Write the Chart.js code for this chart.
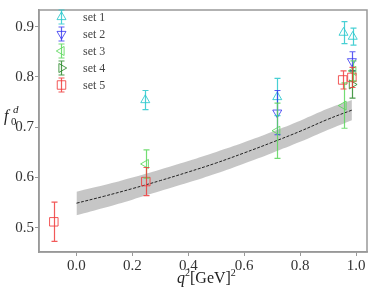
<!DOCTYPE html>
<html><head><meta charset="utf-8">
<script src="https://cdn.jsdelivr.net/npm/chart.js@4/dist/chart.umd.min.js"></script>
<style>html,body{margin:0;padding:0;background:#fff}#wrap{width:374px;height:288px}</style>
</head><body><div id="wrap"><canvas id="c" width="374" height="288"></canvas></div>
<script>
// ---- data ----
const setLabels = ['set 1', 'set 2', 'set 3', 'set 4', 'set 5'];
const set1X = [0.246, 0.718, 0.955, 0.988];
const set1Y = [0.754, 0.760, 0.888, 0.880];
const set1Err = [0.019, 0.037, 0.022, 0.017];
const set2X = [0.718, 0.985];
const set2Y = [0.729, 0.831];
const set2Err = [0.044, 0.019];
const set3X = [0.248, 0.718, 0.955, 0.990];
const set3Y = [0.627, 0.693, 0.743, 0.812];
const set3Err = [0.028, 0.055, 0.045, 0.020];
const set4X = [0.985];
const set4Y = [0.785];
const set4Err = [0.027];
const set5X = [-0.081, 0.248, 0.952, 0.985];
const set5Y = [0.512, 0.592, 0.794, 0.799];
const set5Err = [0.039, 0.028, 0.018, 0.020];
const bandX      = [0.0,   0.1,   0.2,   0.3,   0.4,   0.5,   0.6,   0.7,   0.8,   0.9,   0.985];
const bandCenter = [0.549, 0.563, 0.578, 0.594, 0.611, 0.629, 0.649, 0.670, 0.692, 0.716, 0.734];
const bandUpper  = [0.572, 0.585, 0.600, 0.616, 0.633, 0.651, 0.670, 0.691, 0.713, 0.737, 0.754];
const bandLower  = [0.525, 0.540, 0.556, 0.573, 0.590, 0.608, 0.628, 0.649, 0.671, 0.695, 0.714];
const xTicks = [0.0, 0.2, 0.4, 0.6, 0.8, 1.0];
const yTicks = [0.5, 0.6, 0.7, 0.8, 0.9];

const setColors = ['rgba(40,200,205,0.85)', 'rgba(50,50,240,0.8)', 'rgba(90,215,90,0.85)', 'rgba(30,130,30,0.8)', 'rgba(240,60,60,0.85)'];
const setStyles = [['triangle', 0], ['triangle', 180], ['triangle', 270], ['triangle', 90], ['rect', 0]];
const sets = [[set1X, set1Y, set1Err], [set2X, set2Y, set2Err], [set3X, set3Y, set3Err], [set4X, set4Y, set4Err], [set5X, set5Y, set5Err]];

const pts = (xs, ys) => xs.map((x, i) => ({x: x, y: ys[i]}));
const SERIF = '"Liberation Serif", serif';
const radiusFor = st => st === 'rect' ? 6 : 5.2;

const datasets = [
  {label: 'lower', data: pts(bandX, bandLower), showLine: true, borderWidth: 0, pointRadius: 0, borderColor: 'rgba(0,0,0,0)', fill: false, tension: 0.4, order: 10},
  {label: 'upper', data: pts(bandX, bandUpper), showLine: true, borderWidth: 0, pointRadius: 0, borderColor: 'rgba(0,0,0,0)', backgroundColor: 'rgba(160,160,160,0.6)', fill: '-1', tension: 0.4, order: 9},
  {label: 'center', data: pts(bandX, bandCenter), showLine: true, borderWidth: 1, pointRadius: 0, borderColor: '#222', borderDash: [3, 1.5], fill: false, tension: 0.4, order: 8}
];
sets.forEach((s, k) => {
  datasets.push({
    label: setLabels[k], data: pts(s[0], s[1]), errs: s[2], showLine: false,
    pointStyle: setStyles[k][0], rotation: setStyles[k][1], pointRadius: radiusFor(setStyles[k][0]),
    borderColor: setColors[k], backgroundColor: 'rgba(0,0,0,0)', borderWidth: 1, order: 5 - k
  });
});

const extras = {
  id: 'extras',
  afterDatasetsDraw(chart) {
    const ctx = chart.ctx, xs = chart.scales.x, ys = chart.scales.y;
    ctx.save();
    chart.data.datasets.forEach(ds => {
      if (!ds.errs) return;
      ctx.strokeStyle = ds.borderColor; ctx.lineWidth = 1.2;
      ds.data.forEach((p, i) => {
        const px = Math.round(xs.getPixelForValue(p.x)) + 0.5;
        const y1 = ys.getPixelForValue(p.y + ds.errs[i]);
        const y2 = ys.getPixelForValue(p.y - ds.errs[i]);
        ctx.beginPath();
        ctx.moveTo(px, y1); ctx.lineTo(px, y2);
        ctx.moveTo(px - 3, y1); ctx.lineTo(px + 3, y1);
        ctx.moveTo(px - 3, y2); ctx.lineTo(px + 3, y2);
        ctx.stroke();
      });
    });
    ctx.restore();
  },
  afterDraw(chart) {
    const ctx = chart.ctx, a = chart.chartArea;
    ctx.save();
    ctx.strokeStyle = '#999'; ctx.lineWidth = 1.5;
    ctx.strokeRect(a.left, a.top, a.right - a.left, a.bottom - a.top);
    // legend
    sets.forEach((s, k) => {
      const cx = 61, cy = 17 + k * 17;
      ctx.strokeStyle = setColors[k]; ctx.fillStyle = 'rgba(0,0,0,0)'; ctx.lineWidth = 1.2;
      ctx.beginPath();
      ctx.moveTo(cx + 0.5, cy - 7); ctx.lineTo(cx + 0.5, cy + 7);
      ctx.moveTo(cx - 2.5, cy - 7); ctx.lineTo(cx + 3.5, cy - 7);
      ctx.moveTo(cx - 2.5, cy + 7); ctx.lineTo(cx + 3.5, cy + 7);
      ctx.stroke();
      ctx.lineWidth = 1;
      Chart.helpers.drawPoint(ctx, {pointStyle: setStyles[k][0], rotation: setStyles[k][1], radius: radiusFor(setStyles[k][0]), borderWidth: 1}, cx + 0.5, cy);
      ctx.fillStyle = '#444'; ctx.font = '12px ' + SERIF; ctx.textBaseline = 'middle'; ctx.textAlign = 'left';
      ctx.fillText(setLabels[k], 83, cy + 1);
    });
    // axis titles
    ctx.fillStyle = '#222'; ctx.textBaseline = 'alphabetic'; ctx.textAlign = 'left';
    ctx.font = 'italic 16px ' + SERIF;
    ctx.fillText('f', 4, 121);
    ctx.font = 'italic 11px ' + SERIF;
    ctx.fillText('d', 13, 113);
    ctx.font = '11px ' + SERIF;
    ctx.fillText('0', 11, 125);
    let x = 177, b = 283;
    ctx.font = 'italic 16px ' + SERIF; ctx.fillText('q', x, b); x += ctx.measureText('q').width;
    ctx.font = '10px ' + SERIF; ctx.fillText('2', x, b - 7); x += ctx.measureText('2').width;
    ctx.font = '16px ' + SERIF; ctx.fillText('[GeV]', x, b); x += ctx.measureText('[GeV]').width;
    ctx.font = '10px ' + SERIF; ctx.fillText('2', x, b - 7);
    ctx.restore();
  }
};

new Chart(document.getElementById('c'), {
  type: 'scatter',
  data: {datasets: datasets},
  options: {
    responsive: false, animation: false, devicePixelRatio: 1,
    layout: {padding: {top: 2, right: 2, left: 0, bottom: 0}},
    plugins: {legend: {display: false}, tooltip: {enabled: false}},
    scales: {
      x: {
        type: 'linear', min: -0.134, max: 1.039,
        afterFit: s => { s.height = 36; },
        afterBuildTicks: s => { s.ticks = xTicks.map(v => ({value: v})); },
        ticks: {callback: v => v.toFixed(1), font: {family: SERIF, size: 15}, color: '#333', padding: 1, maxRotation: 0, autoSkip: false},
        grid: {drawOnChartArea: false, drawTicks: true, tickLength: 4, color: '#999'},
        border: {color: '#999', width: 1.5}
      },
      y: {
        type: 'linear', min: 0.452, max: 0.933,
        afterFit: s => { s.width = 39; },
        afterBuildTicks: s => { s.ticks = yTicks.map(v => ({value: v})); },
        ticks: {callback: v => v.toFixed(1), font: {family: SERIF, size: 15}, color: '#333', padding: 1, autoSkip: false},
        grid: {drawOnChartArea: false, drawTicks: true, tickLength: 4, color: '#999'},
        border: {color: '#999', width: 1.5}
      }
    }
  },
  plugins: [extras]
});
</script>
</body></html>
